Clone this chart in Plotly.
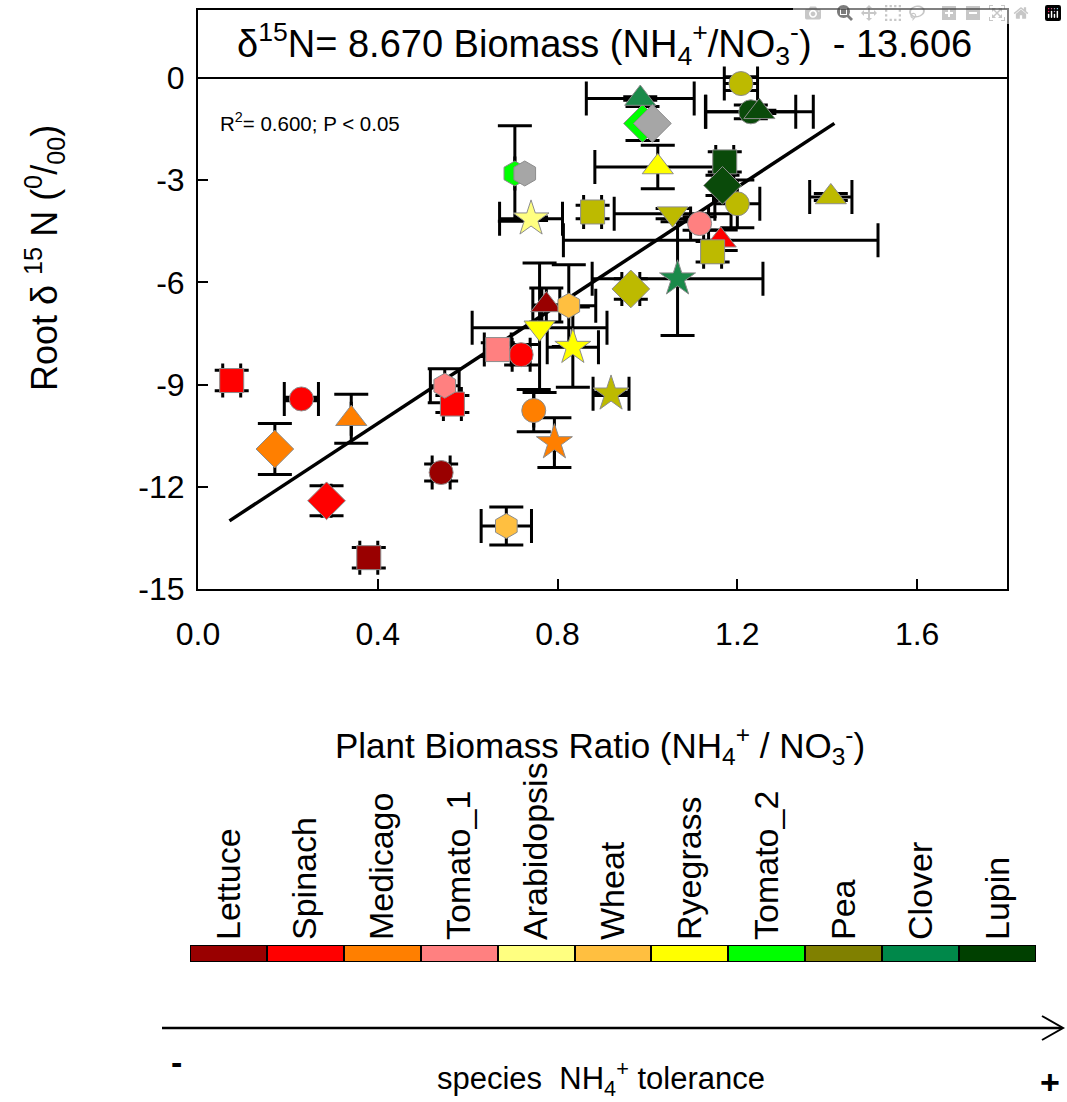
import plotly.graph_objects as go

W, H = 1067, 1102

# ---------------- data ----------------
species = ["Lettuce", "Spinach", "Medicago", "Tomato_1", "Arabidopsis", "Wheat",
           "Ryegrass", "Tomato_2", "Pea", "Clover", "Lupin"]
bar_colors = ["#990000", "#FF0000", "#FF7F00", "#FF8080", "#FFFF80", "#FFBF40",
              "#FFFF00", "#00FF00", "#808000", "#00884A", "#004000"]
marker_colors = ["#990000", "#FF0000", "#FF7F00", "#FF8080", "#FFFF80", "#FFBF40",
                 "#FFFF00", "#00FF00", "#BDBA00", "#1A8A4A", "#0A4A0A"]

lettuce_sym = ["square", "circle", "triangle-up"]
lettuce_x = [0.380, 0.541, 0.775]
lettuce_y = [-14.08, -11.58, -6.66]
lettuce_xe = [0.02, 0.02, 0.03]
lettuce_ye = [0.30, 0.25, 0.50]

spinach_sym = ["square", "circle", "diamond", "square", "circle", "triangle-up"]
spinach_x = [0.075, 0.230, 0.286, 0.566, 0.719, 1.163]
spinach_y = [-8.88, -9.42, -12.41, -9.57, -8.12, -4.76]
spinach_xe = [0.02, 0.038, 0.01, 0.02, 0.02, 0.35]
spinach_ye = [0.30, 0.05, 0.44, 0.25, 0.30, 0.30]

medicago_sym = ["diamond", "triangle-up", "circle", "star"]
medicago_x = [0.171, 0.341, 0.747, 0.793]
medicago_y = [-10.89, -10.00, -9.76, -10.70]
medicago_xe = [0.0, 0.0, 0.0, 0.0]
medicago_ye = [0.75, 0.72, 0.62, 0.73]

tomato1_sym = ["hexagon", "square", "circle"]
tomato1_x = [0.549, 0.667, 1.116]
tomato1_y = [-9.03, -7.97, -4.27]
tomato1_xe = [0.032, 0.03, 0.02]
tomato1_ye = [0.50, 0.20, 0.20]

arabidopsis_sym = ["star"]
arabidopsis_x = [0.741]
arabidopsis_y = [-4.13]
arabidopsis_xe = [0.07]
arabidopsis_ye = [0.05]

wheat_sym = ["hexagon", "hexagon"]
wheat_x = [0.686, 0.825]
wheat_y = [-13.15, -6.68]
wheat_xe = [0.056, 0.06]
wheat_ye = [0.56, 1.20]

ryegrass_sym = ["triangle-down", "star", "triangle-up"]
ryegrass_x = [0.760, 0.834, 1.023]
ryegrass_y = [-7.33, -7.90, -2.61]
ryegrass_xe = [0.15, 0.057, 0.14]
ryegrass_ye = [1.90, 1.18, 0.64]

tomato2_sym = ["hexagon", "diamond"]
tomato2_x = [0.705, 0.989]
tomato2_y = [-2.80, -1.33]
tomato2_xe = [0.0, 0.0]
tomato2_ye = [1.40, 0.50]

grey_sym = ["hexagon", "diamond"]
grey_x = [0.727, 1.011]
grey_y = [-2.80, -1.33]

pea_sym = ["square", "triangle-down", "circle", "circle", "triangle-up", "square", "diamond", "star"]
pea_x = [0.878, 1.056, 1.208, 1.200, 1.408, 1.145, 0.963, 0.919]
pea_y = [-3.93, -3.98, -0.16, -3.69, -3.49, -5.10, -6.19, -9.27]
pea_xe = [0.02, 0.13, 0.037, 0.05, 0.047, 0.02, 0.02, 0.04]
pea_ye = [0.20, 0.15, 0.20, 0.70, 0.10, 0.30, 0.30, 0.05]

clover_sym = ["triangle-up", "star"]
clover_x = [0.984, 1.067]
clover_y = [-0.60, -5.89]
clover_xe = [0.12, 0.19]
clover_ye = [0.05, 1.67]

lupin_sym = ["circle", "triangle-up", "square", "diamond"]
lupin_x = [1.230, 1.249, 1.172, 1.167]
lupin_y = [-0.99, -0.99, -2.46, -3.15]
lupin_xe = [0.10, 0.12, 0.02, 0.02]
lupin_ye = [0.20, 0.05, 0.30, 0.30]

slope, intercept = 8.670, -13.606
fit_x = [0.07, 1.416]

x_ticks = [0.0, 0.4, 0.8, 1.2, 1.6]
x_ticktext = ["0.0", "0.4", "0.8", "1.2", "1.6"]
y_ticks = [-15, -12, -9, -6, -3, 0]
y_ticktext = ["-15", "-12", "-9", "-6", "-3", "0"]

# ---------------- helpers ----------------
def px(x):
    return x / W

def py(y):
    return 1 - y / H

FONT = "Liberation Sans, Arial, sans-serif"
SIZES = {"circle": 24, "square": 24, "triangle-up": 27, "triangle-down": 27,
         "diamond": 29, "star": 27, "hexagon": 25}

fig = go.Figure()

groups = [
    (lettuce_sym, lettuce_x, lettuce_y, lettuce_xe, lettuce_ye, 0),
    (spinach_sym, spinach_x, spinach_y, spinach_xe, spinach_ye, 1),
    (medicago_sym, medicago_x, medicago_y, medicago_xe, medicago_ye, 2),
    (tomato1_sym, tomato1_x, tomato1_y, tomato1_xe, tomato1_ye, 3),
    (arabidopsis_sym, arabidopsis_x, arabidopsis_y, arabidopsis_xe, arabidopsis_ye, 4),
    (wheat_sym, wheat_x, wheat_y, wheat_xe, wheat_ye, 5),
    (ryegrass_sym, ryegrass_x, ryegrass_y, ryegrass_xe, ryegrass_ye, 6),
    (tomato2_sym, tomato2_x, tomato2_y, tomato2_xe, tomato2_ye, 7),
    (pea_sym, pea_x, pea_y, pea_xe, pea_ye, 8),
    (clover_sym, clover_x, clover_y, clover_xe, clover_ye, 9),
    (lupin_sym, lupin_x, lupin_y, lupin_xe, lupin_ye, 10),
]

# error bars first (underneath every marker)
for sym, xs, ys, xe, ye, ci in groups:
    fig.add_trace(go.Scatter(
        x=xs, y=ys, mode="markers", showlegend=False, hoverinfo="skip",
        error_x=dict(type="data", array=xe, color="black", thickness=3, width=17, visible=True),
        error_y=dict(type="data", array=ye, color="black", thickness=3, width=17, visible=True),
        marker=dict(size=2, opacity=0)))

# regression line
fig.add_trace(go.Scatter(
    x=fit_x, y=[slope * v + intercept for v in fit_x], mode="lines", showlegend=False,
    line=dict(color="black", width=3.5)))

# markers
for sym, xs, ys, xe, ye, ci in groups:
    fig.add_trace(go.Scatter(
        x=xs, y=ys, mode="markers", name=species[ci], showlegend=False,
        marker=dict(symbol=sym, size=[SIZES[s] for s in sym], color=marker_colors[ci],
                    opacity=1, line=dict(color="#8c8c8c", width=1))))

fig.add_trace(go.Scatter(
    x=grey_x, y=grey_y, mode="markers", showlegend=False,
    marker=dict(symbol=grey_sym, size=[SIZES[s] for s in grey_sym], color="#A6A6A6",
                opacity=1, line=dict(color="#8c8c8c", width=1))))

# colour scale bar
fig.add_trace(go.Bar(
    x=species, y=[1] * len(species), marker=dict(color=bar_colors, line=dict(color="black", width=2)),
    width=1, showlegend=False, xaxis="x2", yaxis="y2", hoverinfo="x"))

fig.update_layout(
    width=W, height=H, autosize=False,
    margin=dict(l=0, r=0, t=0, b=0, pad=0),
    paper_bgcolor="white", plot_bgcolor="white",
    font=dict(family=FONT, color="black"),
    bargap=0,
    xaxis=dict(domain=[px(198), px(1007)], range=[0, 1.8], tickvals=x_ticks, ticktext=x_ticktext,
               ticks="inside", ticklen=10, tickwidth=2, tickcolor="black",
               showline=True, linewidth=2, linecolor="black", mirror=True,
               showgrid=False, zeroline=False, tickfont=dict(size=32), ticklabelstandoff=16,
               anchor="y", automargin=False),
    yaxis=dict(domain=[py(589), py(10)], range=[-15, 2.0], tickvals=y_ticks, ticktext=y_ticktext,
               ticks="inside", ticklen=10, tickwidth=2, tickcolor="black",
               showline=True, linewidth=2, linecolor="black", mirror=True,
               showgrid=False, zeroline=True, zerolinecolor="black", zerolinewidth=2,
               tickfont=dict(size=32), ticklabelstandoff=5, anchor="x", automargin=False),
    xaxis2=dict(domain=[px(190), px(1036)], anchor="y2", side="top", tickangle=-90,
                ticks="", showline=False, showgrid=False, zeroline=False,
                tickfont=dict(size=34), range=[-0.5, len(species) - 0.5], automargin=False,
                ticklabelstandoff=4),
    yaxis2=dict(domain=[py(962), py(945)], anchor="x2", range=[0, 1], visible=False,
                showgrid=False, zeroline=False, automargin=False),
)

annotations = [
    dict(x=px(604), y=py(44), xref="paper", yref="paper", showarrow=False,
         text="\u03b4<sup>15</sup>N= 8.670 Biomass (NH<sub>4</sub><sup>+</sup>/NO<sub>3</sub><sup>-</sup>)\u00a0 - 13.606",
         font=dict(size=38), xanchor="center", yanchor="middle"),
    dict(x=px(218), y=py(122), xref="paper", yref="paper", showarrow=False,
         text="R<sup>2</sup>= 0.600; P &lt; 0.05", font=dict(size=20.5), xanchor="left", yanchor="middle"),
    dict(x=px(44), y=py(258), xref="paper", yref="paper", showarrow=False, textangle=-90,
         text="Root \u03b4 <sup>15</sup> N (<sup>0</sup>/<sub>00</sub>)", font=dict(size=36),
         xanchor="center", yanchor="middle"),
    dict(x=px(600), y=py(745), xref="paper", yref="paper", showarrow=False,
         text="Plant Biomass Ratio (NH<sub>4</sub><sup>+</sup> / NO<sub>3</sub><sup>-</sup>)",
         font=dict(size=35), xanchor="center", yanchor="middle"),
    dict(x=px(176), y=py(1062), xref="paper", yref="paper", showarrow=False,
         text="<b>-</b>", font=dict(size=34), xanchor="center", yanchor="middle"),
    dict(x=px(1050), y=py(1082), xref="paper", yref="paper", showarrow=False,
         text="<b>+</b>", font=dict(size=34), xanchor="center", yanchor="middle"),
    dict(x=px(601), y=py(1078), xref="paper", yref="paper", showarrow=False,
         text="species\u00a0 NH<sub>4</sub><sup>+</sup> tolerance", font=dict(size=31),
         xanchor="center", yanchor="middle"),
]
fig.update_layout(annotations=annotations)

shapes = [
    dict(type="line", xref="paper", yref="paper", x0=px(162), x1=px(1062), y0=py(1028), y1=py(1028),
         line=dict(color="black", width=2.5)),
    dict(type="path", xref="paper", yref="paper",
         path=f"M {px(1042)},{py(1016)} L {px(1063)},{py(1028)} L {px(1042)},{py(1040)}",
         line=dict(color="black", width=2)),
]
fig.update_layout(shapes=shapes)

fig.write_html("out.html", post_script="document.body.style.margin='0';")
